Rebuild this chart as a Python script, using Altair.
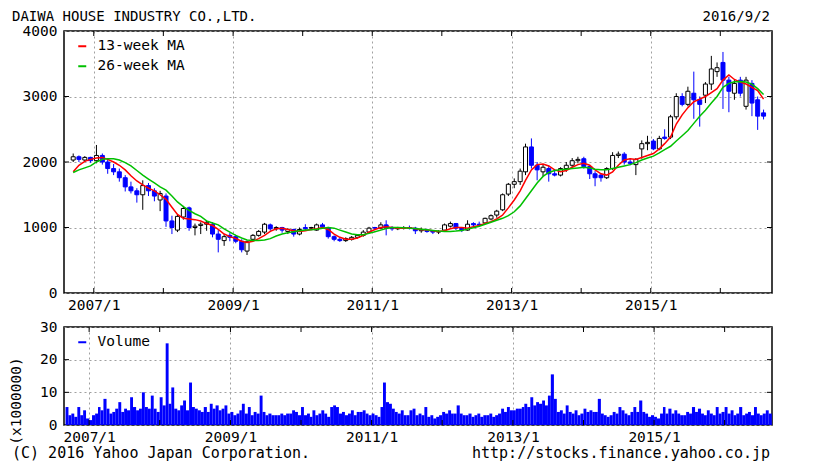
import altair as alt
import pandas as pd

# ---------------- text ----------------
TITLE = "DAIWA HOUSE INDUSTRY CO.,LTD."
DATE_TEXT = "2016/9/2"
COPYRIGHT = "(C) 2016 Yahoo Japan Corporation."
URL = "http://stocks.finance.yahoo.co.jp"
MA_NAMES = ["13-week MA", "26-week MA"]
VOL_NAME = "Volume"
VOL_TITLE = "(x1000000)"

# ---------------- data: monthly candles 2006/9 .. 2016/8 ----------------
opens = [2030, 2080, 2030, 2070,
         2020, 2100, 2000, 1900, 1850, 1760, 1620, 1560, 1500, 1640, 1560, 1420,
         1480, 1100, 960, 1160, 1300, 1000, 1030, 1050, 1050, 900, 800, 880,
         860, 790, 640, 820, 880, 930, 1040, 980, 1000, 940, 970, 900,
         1000, 990, 960, 1040, 1000, 860, 820, 800, 820, 850, 880, 930,
         1000, 990, 1040, 990, 980, 990, 1000, 990, 950, 960, 950, 930,
         960, 1020, 1060, 990, 960, 1060, 1050, 1070, 1130, 1190, 1270, 1510,
         1660, 1700, 1850, 2230, 1950, 1850, 1900, 1820, 1800, 1900, 1950, 2020,
         2050, 1930, 1820, 1800, 1760, 1900, 2100, 2120, 2000, 1960, 2200, 2280,
         2320, 2200, 2380, 2380, 2690, 3000, 2880, 3050, 2950, 3020, 3190, 3380,
         3520, 3250, 3050, 3250, 2850, 3200, 2950, 2750]
highs = [2130, 2100, 2090, 2080,
         2260, 2130, 2030, 1970, 1900, 1800, 1700, 1600, 1720, 1680, 1600, 1560,
         1520, 1180, 1200, 1330, 1320, 1060, 1080, 1100, 1080, 960, 900, 920,
         890, 820, 800, 900, 960, 1070, 1060, 1020, 1010, 990, 980, 1000,
         1050, 1010, 1060, 1070, 1010, 880, 850, 850, 870, 900, 960, 1010,
         1010, 1080, 1110, 1020, 1010, 1020, 1030, 1010, 1000, 980, 960, 960,
         1060, 1090, 1070, 1000, 1110, 1080, 1090, 1150, 1200, 1270, 1520, 1680,
         1750, 1900, 2280, 2360, 2000, 1960, 1950, 1880, 1920, 2000, 2060, 2080,
         2080, 1950, 1860, 1830, 1920, 2150, 2160, 2150, 2060, 2060, 2330, 2400,
         2350, 2400, 2500, 2720, 3050, 3050, 3150, 3380, 3000, 3220, 3620, 3520,
         3680, 3300, 3250, 3300, 3300, 3250, 3000, 2800]
lows = [2000, 2000, 2000, 1990,
        1980, 1960, 1820, 1800, 1700, 1550, 1520, 1380, 1270, 1480, 1400, 1250,
        1010, 900, 930, 1120, 950, 880, 900, 950, 850, 620, 720, 790,
        760, 620, 580, 800, 860, 900, 950, 950, 920, 900, 860, 880,
        960, 960, 950, 990, 830, 790, 780, 780, 800, 830, 860, 910,
        960, 970, 880, 950, 960, 970, 970, 900, 920, 920, 900, 900,
        950, 1000, 960, 930, 950, 1000, 1010, 1060, 1110, 1150, 1250, 1480,
        1600, 1650, 1800, 1900, 1720, 1780, 1700, 1780, 1780, 1850, 1900, 1980,
        1900, 1740, 1630, 1700, 1740, 1880, 2060, 1960, 1950, 1800, 2050, 2180,
        2180, 2180, 2340, 2350, 2650, 2850, 2850, 2660, 2540, 2900, 3100, 3300,
        2810, 2760, 2950, 3000, 2800, 2700, 2490, 2650]
closes = [2080, 2040, 2070, 2020,
          2100, 2000, 1900, 1850, 1760, 1620, 1560, 1500, 1640, 1560, 1480, 1520,
          1100, 1000, 1170, 1290, 1000, 1020, 1050, 1080, 900, 820, 860, 850,
          790, 660, 780, 880, 940, 1050, 980, 1000, 960, 970, 900, 970,
          980, 1000, 1040, 1010, 860, 820, 800, 830, 850, 880, 930, 990,
          990, 1040, 990, 980, 990, 1000, 990, 950, 970, 940, 930, 940,
          1040, 1060, 990, 960, 1050, 1040, 1040, 1140, 1180, 1250, 1500, 1660,
          1700, 1860, 2230, 1950, 1880, 1920, 1820, 1800, 1900, 1950, 2020, 2040,
          1930, 1820, 1760, 1760, 1900, 2100, 2120, 2000, 1980, 2040, 2280, 2300,
          2200, 2360, 2360, 2690, 3000, 2880, 3080, 2950, 2880, 3190, 3420, 3440,
          3250, 3080, 3200, 3050, 3250, 2900, 2700, 2700]

# moving averages sampled monthly (same months as candles)
ma13 = [1850, 1950, 2010, 2040,
        2060, 2070, 2040, 2000, 1950, 1880, 1790, 1710, 1650, 1600, 1560, 1500,
        1430, 1310, 1200, 1140, 1130, 1120, 1100, 1060, 1030, 970, 900, 860,
        830, 790, 770, 790, 830, 880, 940, 980, 990, 970, 950, 940,
        950, 970, 980, 1000, 970, 900, 850, 820, 820, 840, 880, 930,
        970, 1000, 1010, 1000, 990, 990, 995, 980, 970, 960, 950, 940,
        950, 980, 1000, 1000, 990, 1010, 1030, 1060, 1090, 1130, 1190, 1300,
        1420, 1560, 1720, 1880, 1960, 1970, 1940, 1880, 1850, 1870, 1920, 1960,
        1980, 1950, 1880, 1820, 1800, 1850, 1950, 2030, 2050, 2040, 2070, 2100,
        2130, 2200, 2280, 2380, 2580, 2720, 2830, 2920, 2960, 3000, 3060, 3120,
        3250, 3330, 3260, 3220, 3190, 3140, 3090, 2960]
ma26 = [1840, 1880, 1910, 1940,
        2000, 2040, 2050, 2050, 2030, 1990, 1940, 1870, 1800, 1740, 1680, 1620,
        1570, 1480, 1390, 1320, 1260, 1210, 1170, 1100, 1070, 1040, 980, 930,
        880, 840, 810, 800, 800, 810, 830, 870, 900, 920, 935, 950,
        960, 965, 975, 990, 1000, 990, 960, 930, 900, 890, 890, 910,
        935, 960, 985, 1000, 1000, 995, 990, 985, 975, 965, 955, 945,
        940, 940, 945, 955, 975, 995, 1020, 1050, 1080, 1110, 1140, 1180,
        1240, 1330, 1440, 1560, 1680, 1780, 1840, 1870, 1880, 1890, 1900, 1910,
        1920, 1910, 1890, 1880, 1880, 1900, 1920, 1940, 1960, 1990, 2030, 2060,
        2090, 2140, 2190, 2240, 2320, 2400, 2480, 2590, 2700, 2790, 2900, 3000,
        3140, 3200, 3225, 3230, 3220, 3190, 3120, 3030]

# volume (x1,000,000), two values per month, 2006/9 .. 2016/8
volume = [5.5, 3.0, 3.5, 2.5, 5.5, 3.0, 4.5, 2.0, 1.5, 3.0, 3.5, 5.5, 4.5, 8.0, 5.0, 3.5, 4.0, 5.0, 7.0, 4.0, 5.0, 4.5, 8.5, 5.5,
          4.5, 5.0, 10.0, 5.5, 5.0, 9.0, 5.0, 4.0, 8.5, 6.0, 25.0, 6.5, 11.5, 5.0, 4.5, 6.0, 7.5, 4.5, 13.0, 5.5, 5.0, 4.5, 4.0, 5.5,
          4.0, 6.5, 5.0, 6.0, 4.5, 5.0, 6.0, 3.5, 4.0, 3.0, 3.5, 4.5, 6.5, 3.5, 5.5, 3.0, 4.0, 3.5, 9.0, 4.0, 3.0, 3.5, 3.0, 3.0,
          3.0, 3.5, 3.0, 3.5, 3.5, 4.5, 4.0, 3.0, 5.5, 3.0, 3.5, 2.5, 4.5, 3.0, 3.5, 4.5, 3.5, 2.5, 5.5, 6.0, 5.5, 3.5, 4.0, 3.0,
          3.5, 4.5, 3.0, 4.0, 4.0, 4.5, 3.5, 3.0, 3.5, 3.0, 2.5, 5.5, 13.0, 7.0, 6.5, 5.0, 4.0, 3.5, 4.5, 3.0, 3.0, 4.5, 5.0, 3.0,
          3.5, 3.0, 5.5, 2.5, 3.0, 2.0, 2.5, 3.0, 4.0, 3.5, 4.5, 3.5, 3.5, 6.0, 3.5, 3.0, 3.0, 3.5, 2.5, 3.0, 3.5, 2.5, 3.0, 3.0,
          3.5, 2.5, 3.0, 3.5, 5.0, 4.0, 5.5, 4.5, 4.5, 5.0, 5.0, 5.5, 6.5, 5.5, 8.5, 6.0, 7.0, 6.5, 7.5, 6.0, 9.0, 15.5, 8.0, 4.0,
          4.5, 3.5, 6.0, 4.0, 3.5, 4.5, 3.0, 3.5, 5.0, 4.0, 4.5, 4.0, 4.0, 8.0, 3.5, 3.0, 2.5, 3.0, 4.0, 3.5, 5.5, 4.5, 3.5, 3.0,
          4.0, 5.5, 4.0, 7.5, 4.0, 3.5, 2.5, 3.0, 2.5, 2.0, 3.5, 5.5, 3.5, 5.0, 3.5, 4.5, 3.5, 3.0, 3.0, 4.0, 3.5, 5.5, 4.0, 5.0,
          3.5, 3.0, 4.5, 3.5, 3.0, 5.5, 3.5, 4.0, 5.5, 3.5, 4.5, 3.0, 3.5, 5.5, 3.0, 3.5, 4.0, 3.0, 5.5, 3.5, 3.0, 3.5, 4.5, 3.5]

price_ticks = [0, 1000, 2000, 3000, 4000]
price_inner = [1000, 2000, 3000]
vol_ticks = [0, 10, 20, 30]
vol_inner = [10, 20]
tick_years = [2007, 2008, 2009, 2010, 2011, 2012, 2013, 2014, 2015, 2016]
label_years = [2007, 2009, 2011, 2013, 2015]

# ---------------- styling ----------------
FONT = "DejaVu Sans Mono"
W, H1, H2 = 708, 262, 98
BLUE, RED, GREEN = "#0000ff", "#ff0000", "#00c000"
GRID = "#a0a0a0"
TK = 5

# ---------------- tables ----------------
fmt = "%Y-%m-%dT%H:%M:%S"
months = pd.date_range("2006-09-01", periods=len(opens), freq="MS")
mids = (months + pd.Timedelta(days=14)).strftime(fmt)
candles = pd.DataFrame({"date": mids, "open": opens, "high": highs,
                        "low": lows, "close": closes})
ma_df = pd.concat([
    pd.DataFrame({"date": mids, "value": ma13, "series": MA_NAMES[0]}),
    pd.DataFrame({"date": mids, "value": ma26, "series": MA_NAMES[1]}),
])
starts, ends = [], []
for m in months:
    half = m + pd.Timedelta(days=15)
    nxt = m + pd.offsets.MonthBegin(1)
    starts += [m.strftime(fmt), half.strftime(fmt)]
    ends += [half.strftime(fmt), nxt.strftime(fmt)]
vol_df = pd.DataFrame({"start": starts, "end": ends, "vol": volume, "series": VOL_NAME})
tick_df = pd.DataFrame({"d": [f"{y}-01-01T00:00:00" for y in tick_years]})
p_inner_df = pd.DataFrame({"v": price_inner})
v_inner_df = pd.DataFrame({"v": vol_inner})
one = pd.DataFrame({"a": [0]})

xs = alt.Scale(domain=[alt.DateTime(year=2006, month=8, date=24),
                       alt.DateTime(year=2016, month=9, date=2)])
ys_p = alt.Scale(domain=[0, 4000], nice=False)
ys_v = alt.Scale(domain=[0, 30], nice=False)

ax_x = alt.Axis(values=[alt.DateTime(year=y, month=1, date=1) for y in label_years],
                labelExpr="timeFormat(datum.value, '%Y') + '/1'",
                title=None, grid=True, ticks=False, tickSize=0, domain=False,
                labelPadding=5, labelFlush=False, labelOverlap=False)
ax_yp = alt.Axis(values=price_ticks, format="d", title=None, grid=True, ticks=False,
                 tickSize=0, domain=False, labelPadding=7)
ax_yv = alt.Axis(values=vol_ticks, format="d", title=None, grid=True, ticks=False,
                 tickSize=0, domain=False, labelPadding=7)

X = lambda f: alt.X(f, scale=xs, axis=ax_x)
YP = lambda f: alt.Y(f, scale=ys_p, axis=ax_yp)
YV = lambda f: alt.Y(f, scale=ys_v, axis=ax_yv)

up = "datum.close >= datum.open"


def text_layer(txt, x, y, align="left", size=15, angle=0):
    return alt.Chart(one).mark_text(text=txt, align=align, baseline="middle",
                                    font=FONT, fontSize=size, color="black",
                                    angle=angle).encode(x=alt.value(x), y=alt.value(y))


def frame_ticks(h, ydf, yenc):
    bot = alt.Chart(tick_df).mark_rule(color="black").encode(
        x=X("d:T"), y=alt.value(h), y2=alt.value(h - TK))
    top = alt.Chart(tick_df).mark_rule(color="black").encode(
        x=X("d:T"), y=alt.value(0), y2=alt.value(TK))
    left = alt.Chart(ydf).mark_rule(color="black").encode(
        y=yenc("v:Q"), x=alt.value(0), x2=alt.value(TK))
    right = alt.Chart(ydf).mark_rule(color="black").encode(
        y=yenc("v:Q"), x=alt.value(W - TK), x2=alt.value(W))
    return [bot, top, left, right]


def legend(stroke_color=None):
    kw = dict(orient="none", legendX=11, legendY=8, title=None,
              symbolType="stroke", symbolSize=64, symbolStrokeWidth=2,
              labelFont=FONT, labelFontSize=14.5, labelColor="black",
              labelOffset=8, rowPadding=5, padding=0)
    if stroke_color:
        kw["symbolStrokeColor"] = stroke_color
    return alt.Legend(**kw)


wick = alt.Chart(candles).mark_rule(strokeWidth=1).encode(
    x=X("date:T"), y=YP("low:Q"), y2="high:Q",
    color=alt.condition(up, alt.value("black"), alt.value(BLUE)))
body = alt.Chart(candles).mark_bar(width=4, strokeWidth=1).encode(
    x=X("date:T"), y=YP("open:Q"), y2="close:Q",
    fill=alt.condition(up, alt.value("white"), alt.value(BLUE)),
    stroke=alt.condition(up, alt.value("black"), alt.value(BLUE)))
ma_lines = alt.Chart(ma_df).mark_line(strokeWidth=1.5).encode(
    x=X("date:T"), y=YP("value:Q"),
    color=alt.Color("series:N",
                    scale=alt.Scale(domain=MA_NAMES, range=[RED, GREEN]),
                    legend=legend()))

price = alt.layer(
    wick, body, ma_lines,
    *frame_ticks(H1, p_inner_df, YP),
    text_layer(TITLE, -52, -14.5, size=14),
    text_layer(DATE_TEXT, W - 2, -14.5, align="right", size=14),
).properties(width=W, height=H1)

vol_bars = alt.Chart(vol_df).mark_bar(strokeWidth=0).encode(
    x=X("start:T"), x2="end:T", y=YV("vol:Q"), y2=alt.datum(0),
    color=alt.Color("series:N",
                    scale=alt.Scale(domain=[VOL_NAME], range=[BLUE]),
                    legend=legend(BLUE)))

volume_chart = alt.layer(
    vol_bars,
    *frame_ticks(H2, v_inner_df, YV),
    text_layer(VOL_TITLE, -47, 74, align="center", size=14.5, angle=270),
    text_layer(COPYRIGHT, -52, 126),
    text_layer(URL, W - 2, 126, align="right"),
).properties(width=W, height=H2)

chart = alt.vconcat(price, volume_chart, spacing=5).resolve_scale(
    color="independent"
).properties(padding=0).configure_view(
    stroke="black", strokeWidth=1.5
).configure_axis(
    labelFont=FONT, labelFontSize=14.5, labelColor="black",
    gridColor=GRID, gridDash=[2, 3], gridWidth=1, gridOpacity=1
)

chart.save("out.html", embed_options={"renderer": "svg", "actions": False})
